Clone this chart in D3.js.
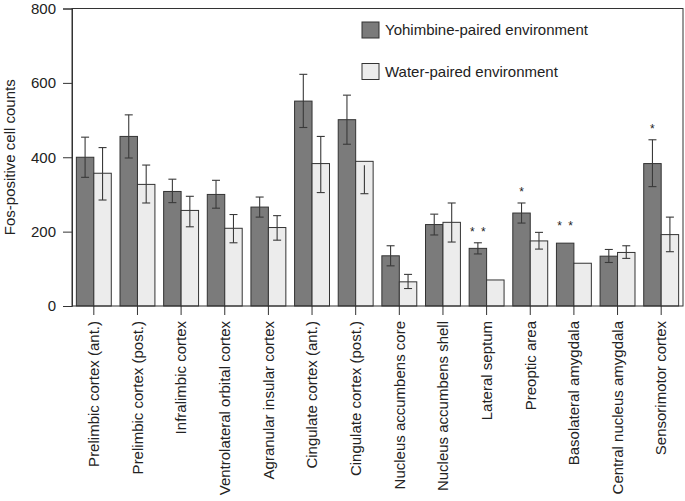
<!DOCTYPE html>
<html>
<head>
<meta charset="utf-8">
<script src="https://cdn.jsdelivr.net/npm/d3@7"></script>
<style>
  html, body { margin: 0; padding: 0; background: #fff; }
  text { font-family: "Liberation Sans", Arial, sans-serif; fill: #222; }
</style>
</head>
<body>
<svg id="chart" width="685" height="501"></svg>
<script>
const categories = [
  "Prelimbic cortex (ant.)", "Prelimbic cortex (post.)", "Infralimbic cortex",
  "Ventrolateral orbital cortex", "Agranular insular cortex", "Cingulate cortex (ant.)",
  "Cingulate cortex (post.)", "Nucleus accumbens core", "Nucleus accumbens shell",
  "Lateral septum", "Preoptic area", "Basolateral amygdala",
  "Central nucleus amygdala", "Sensorimotor cortex"
];
const seriesNames = ["Yohimbine-paired environment", "Water-paired environment"];
const yohimbine    = [400, 456, 308, 300, 266, 551, 501, 135, 219, 155, 250, 169, 134, 383];
const yohimbineErrUp   = [54, 58, 33, 38, 27, 72, 66, 27, 28, 15, 27, 0, 18, 64];
const yohimbineErrDown = [54, 58, 30, 37, 27, 71, 66, 27, 28, 15, 27, 0, 17, 62];
const water        = [357, 327, 257, 209, 211, 383, 389, 65, 225, 70, 175, 115, 144, 192];
const waterErrUp   = [69, 52, 38, 37, 32, 73, 0, 20, 52, 0, 23, 0, 18, 47];
const waterErrDown = [72, 50, 44, 39, 34, 78, 87, 18, 53, 0, 22, 0, 16, 46];
const significance = ["", "", "", "", "", "", "", "", "", "**", "*", "**", "", "*"];
const yTicks = [0, 200, 400, 600, 800];
const yLabel = "Fos-positive cell counts";

const svg = d3.select("#chart");
const m = { left: 72, right: 2, top: 8.5, bottom: 195 };
const W = 685, H = 501;
const x0 = m.left, x1 = W - m.right, yTop = m.top, yBot = H - m.bottom;

const x = d3.scaleBand().domain(categories).range([x0, x1]).paddingInner(0.2).paddingOuter(0.1);
const xs = d3.scaleBand().domain([0, 1]).range([0, x.bandwidth()]);
const y = d3.scaleLinear().domain([0, 800]).range([yBot, yTop]);

const fills = ["#7b7b7b", "#ececec"];
const series = [
  { vals: yohimbine, up: yohimbineErrUp, down: yohimbineErrDown },
  { vals: water, up: waterErrUp, down: waterErrDown }
];

// bars
series.forEach((s, si) => {
  svg.append("g").selectAll("rect").data(categories).join("rect")
    .attr("x", d => x(d) + xs(si))
    .attr("y", (d, i) => y(s.vals[i]))
    .attr("width", xs.bandwidth())
    .attr("height", (d, i) => y(0) - y(s.vals[i]))
    .attr("fill", fills[si])
    .attr("stroke", "#333")
    .attr("stroke-width", 1);
});

// error bars
const capW = 8;
series.forEach((s, si) => {
  const g = svg.append("g").attr("stroke", "#3a3a3a").attr("stroke-width", 1.1);
  categories.forEach((c, i) => {
    const cx = x(c) + xs(si) + xs.bandwidth() / 2;
    const up = s.up[i], dn = s.down[i];
    if (up === 0 && dn === 0) return;
    const yt = y(s.vals[i] + up), yb = y(s.vals[i] - dn);
    g.append("line").attr("x1", cx).attr("x2", cx).attr("y1", up > 0 ? yt : y(s.vals[i]) + 4).attr("y2", yb);
    if (up > 0) g.append("line").attr("x1", cx - capW / 2).attr("x2", cx + capW / 2).attr("y1", yt).attr("y2", yt);
    if (dn > 0) g.append("line").attr("x1", cx - capW / 2).attr("x2", cx + capW / 2).attr("y1", yb).attr("y2", yb);
  });
});

// significance stars
categories.forEach((c, i) => {
  const sig = significance[i];
  if (!sig) return;
  const cx = x(c) + xs(0) + xs.bandwidth() / 2;
  const up = yohimbineErrUp[i];
  const cy = y(yohimbine[i] + up) - (up > 0 ? 14 : 20);
  const n = sig.length;
  for (let k = 0; k < n; k++) {
    const sx = cx + (k - (n - 1) / 2) * 11;
    svg.append("text").attr("x", sx).attr("y", cy + 7)
      .attr("text-anchor", "middle").attr("font-size", 12).text("*");
  }
});

// frame
svg.append("rect").attr("x", x0).attr("y", yTop).attr("width", x1 - x0).attr("height", yBot - yTop)
  .attr("fill", "none").attr("stroke", "#333").attr("stroke-width", 1);

// y axis
const yAxis = svg.append("g").attr("transform", `translate(${x0},0)`)
  .call(d3.axisLeft(y).tickValues(yTicks).tickSize(9).tickPadding(7).tickFormat(d3.format("d")));
yAxis.select(".domain").attr("stroke", "#333");
yAxis.selectAll(".tick line").attr("stroke", "#333");
yAxis.selectAll("text").attr("font-size", 15).attr("fill", "#222")
  .attr("font-family", "Liberation Sans, Arial, sans-serif");

// x axis
const xAxis = svg.append("g").attr("transform", `translate(0,${yBot})`)
  .call(d3.axisBottom(x).tickSize(9).tickSizeOuter(0));
xAxis.select(".domain").remove();
xAxis.selectAll(".tick line").attr("stroke", "#333");
xAxis.selectAll("text")
  .attr("font-size", 15).attr("fill", "#222")
  .attr("font-family", "Liberation Sans, Arial, sans-serif")
  .attr("transform", "rotate(-90)")
  .attr("text-anchor", "end")
  .attr("x", -15).attr("y", 0).attr("dy", "0.35em");

// y label
svg.append("text")
  .attr("transform", `translate(15,${(yTop + yBot) / 2}) rotate(-90)`)
  .attr("text-anchor", "middle").attr("font-size", 15).text(yLabel);

// legend
const lg = svg.append("g");
seriesNames.forEach((name, i) => {
  const ly = 22 + i * 41.5;
  lg.append("rect").attr("x", 362).attr("y", ly).attr("width", 17).attr("height", 16)
    .attr("fill", fills[i]).attr("stroke", "#333");
  lg.append("text").attr("x", 385).attr("y", ly + 13).attr("font-size", 15).text(name);
});
</script>
</body>
</html>
